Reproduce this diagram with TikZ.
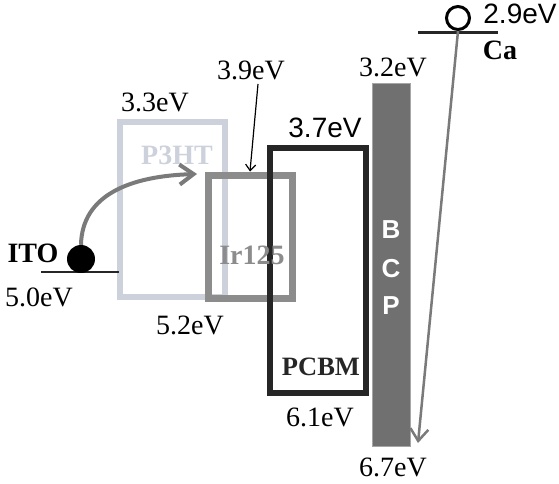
\documentclass[tikz,border=0pt]{standalone}
\usepackage{fontspec}
\setmainfont{Liberation Serif}
\newfontfamily\arialfont{Liberation Sans}
\usetikzlibrary{arrows.meta}
\definecolor{lightbox}{HTML}{CDD1DB}
\definecolor{midbox}{HTML}{8C8C8C}
\definecolor{bcpfill}{HTML}{707070}
\definecolor{arrgray}{HTML}{7A7A7A}
\begin{document}
\begin{tikzpicture}[x=1pt,y=-1pt,
  lbl/.style={font=\fontsize{28}{28}\selectfont, inner sep=0pt, anchor=center},
  sanslbl/.style={font=\arialfont\fontsize{28}{28}\selectfont, inner sep=0pt, anchor=center},
  boldlbl/.style={font=\bfseries\fontsize{28}{28}\selectfont, inner sep=0pt, anchor=center},
  levelbox/.style={inner sep=0pt, anchor=center},
  bcpletter/.style={font=\arialfont\bfseries\fontsize{26}{26}\selectfont, text=white, inner sep=0pt, anchor=center},
  barb/.style={-{Straight Barb[length=13pt,width=20pt]}}]
\useasboundingbox (0,0) rectangle (559,484);
% boxes
\node[levelbox, draw=lightbox, line width=6pt, minimum width=105pt, minimum height=175pt] (p3ht) at (172.5,209.5) {};
\node[levelbox, draw=midbox, line width=7pt, minimum width=84pt, minimum height=123pt] (ir) at (250,236.5) {};
\node[levelbox, draw=black!85, line width=6pt, minimum width=96pt, minimum height=245pt] (pcbm) at (318,270.5) {};
\node[levelbox, fill=bcpfill, draw=black!35, line width=1pt, minimum width=38pt, minimum height=362pt] (bcp) at (391,265) {};
% box labels
\node[boldlbl, text=lightbox] (p3htlbl) at (177,155) {P3HT};
\node[boldlbl, text=midbox] (irlbl) at (252,255) {Ir125};
\node[boldlbl, text=black!85, font=\bfseries\fontsize{26.5}{26.5}\selectfont] (pcbmlbl) at (321,367) {PCBM};
\node[bcpletter] (bb) at (391,230) {B};
\node[bcpletter] (bc) at (391,269) {C};
\node[bcpletter] (bp) at (391,306) {P};
% ITO
\coordinate (itoL) at (41,272);
\coordinate (itoR) at (119,272);
\draw[line width=2.5pt, black!85] (itoL) -- (itoR);
\node[circle, fill=black, inner sep=0pt, minimum size=28pt] (ball) at (81,259) {};
\node[boldlbl] (ito) at (33,253) {ITO};
\node[lbl] (e50) at (39,297) {5.0eV};
% Ca
\coordinate (caL) at (418,33);
\coordinate (caR) at (498,33);
\draw[line width=3pt, black!85] (caL) -- (caR);
\node[circle, draw=black, line width=3pt, inner sep=0pt, minimum size=23pt] (hole) at (458,18) {};
\node[boldlbl] (ca) at (500,50) {Ca};
\node[sanslbl] (e29) at (520,14) {2.9eV};
% energy labels
\node[lbl] (e33) at (155,102) {3.3eV};
\node[lbl] (e39) at (251,70) {3.9eV};
\node[lbl] (e52) at (190,325) {5.2eV};
\node[sanslbl] (e37) at (325,128) {3.7eV};
\node[lbl] (e32) at (393,67) {3.2eV};
\node[lbl] (e61) at (320,417) {6.1eV};
\node[lbl] (e67) at (393,467) {6.7eV};
% arrows
\coordinate (curveEnd) at (197,174);
\draw[arrgray, line width=4pt, -{Straight Barb[length=14pt,width=20pt]}] (ball.north) .. controls (82,195) and (130,176) .. (curveEnd);
\draw[black, line width=1.2pt, -{Straight Barb[length=6pt,width=10pt]}] (258,84) -- (ir.north);
\coordinate (caEnd) at (418,443);
\draw[arrgray, line width=2.5pt, -{Straight Barb[length=12pt,width=18pt]}] (hole.south) -- (caEnd);
\end{tikzpicture}
\end{document}
